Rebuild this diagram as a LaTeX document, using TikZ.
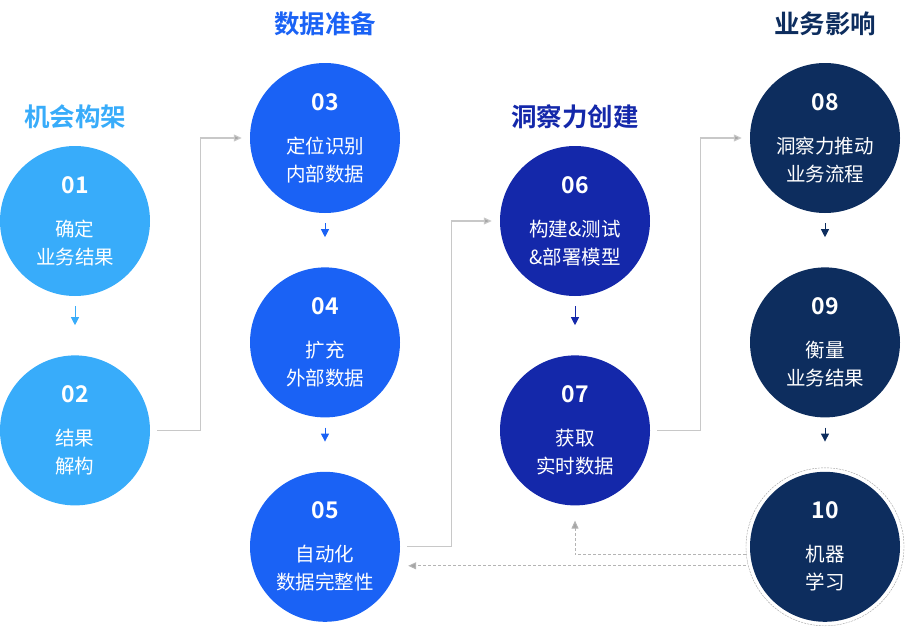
\documentclass[tikz,border=0pt]{standalone}
\usepackage{fontspec}
\setmainfont{Noto Sans CJK SC}[BoldFont={Noto Sans CJK SC Bold}]
\usepackage{xcolor}
\definecolor{oppblue}{RGB}{56,172,250}
\definecolor{datablue}{RGB}{26,98,245}
\definecolor{insightblue}{RGB}{20,40,170}
\definecolor{impactblue}{RGB}{13,45,94}
\definecolor{linegray}{RGB}{200,200,200}
\definecolor{tipgray}{RGB}{165,165,165}
\usetikzlibrary{arrows.meta,positioning,calc}
\newcommand{\stageno}[1]{{\fontsize{23}{26}\selectfont\bfseries #1}\\[15pt]}

\begin{document}
\begin{tikzpicture}[x=1pt, y=-1pt,
    stage/.style={circle, fill=#1, text=white, minimum size=150pt,
                  inner sep=0pt, align=center,
                  font=\fontsize{19.5}{28}\selectfont},
    title/.style={font=\fontsize{25.5}{28}\selectfont\bfseries, text=#1},
    down/.style={-{Triangle[length=8pt,width=8pt]}, line width=1pt, #1,
                 shorten <=10pt, shorten >=30pt},
    link/.style={-{Triangle[length=8pt,width=7pt,fill=tipgray]}, linegray,
                 line width=1.2pt, shorten <=7pt, shorten >=8pt},
    dashlink/.style={-{Triangle[length=8pt,width=7pt,fill=tipgray]},
                 linegray!90!black, line width=1pt,
                 dash pattern=on 3pt off 2pt, shorten >=8pt},
  ]
    \useasboundingbox (0,0) rectangle (906,627);

    % opportunity framing
    \node[stage=oppblue] (c01) at (75,221) {\stageno{01}确定\\业务结果};
    \node[stage=oppblue, below=59pt of c01] (c02) {\stageno{02}结果\\解构};
    \node[title=oppblue, above=13pt of c01] (t1) {机会构架};

    % data preparation
    \node[stage=datablue] (c03) at (325,138) {\stageno{03}定位识别\\内部数据};
    \node[stage=datablue, below=54pt of c03] (c04) {\stageno{04}扩充\\外部数据};
    \node[stage=datablue, below=54pt of c04] (c05) {\stageno{05}自动化\\数据完整性};
    \node[title=datablue, above=23pt of c03] (t2) {数据准备};

    % insight creation
    \node[stage=insightblue] (c06) at (575,221) {\stageno{06}构建\&测试\\\&部署模型};
    \node[stage=insightblue, below=59pt of c06] (c07) {\stageno{07}获取\\实时数据};
    \node[title=insightblue, above=13pt of c06] (t3) {洞察力创建};

    % business impact
    \node[stage=impactblue] (c08) at (825,138) {\stageno{08}洞察力推动\\业务流程};
    \node[stage=impactblue, below=54pt of c08] (c09) {\stageno{09}衡量\\业务结果};
    \node[stage=impactblue, below=54pt of c09] (c10) {\stageno{10}机器\\学习};
    \node[circle, draw=linegray!80!black, dash pattern=on 2pt off 1pt,
          minimum size=158pt] (r10) at (c10) {};
    \node[title=impactblue, above=23pt of c08] (t4) {业务影响};

    \draw[down=oppblue] (c01) -- (c02);
    \draw[down=datablue] (c03) -- (c04);
    \draw[down=datablue] (c04) -- (c05);
    \draw[down=insightblue] (c06) -- (c07);
    \draw[down=impactblue] (c08) -- (c09);
    \draw[down=impactblue] (c09) -- (c10);

    \draw[link] (c02.east) -- ++(50,0) |- (c03.west);
    \draw[link] (c05.east) -- ++(51,0) |- (c06.west);
    \draw[link] (c07.east) -- ++(50,0) |- (c08.west);

    \coordinate (fb1) at ($(r10.west)+(0,8)$);
    \coordinate (fb2) at ($(r10.west)+(0,19)$);
    \draw[dashlink, shorten >=15pt] (fb1) -| (c07.south);
    \draw[dashlink] (fb2) -- (fb2 -| c05.east);
  \end{tikzpicture}
\end{document}
